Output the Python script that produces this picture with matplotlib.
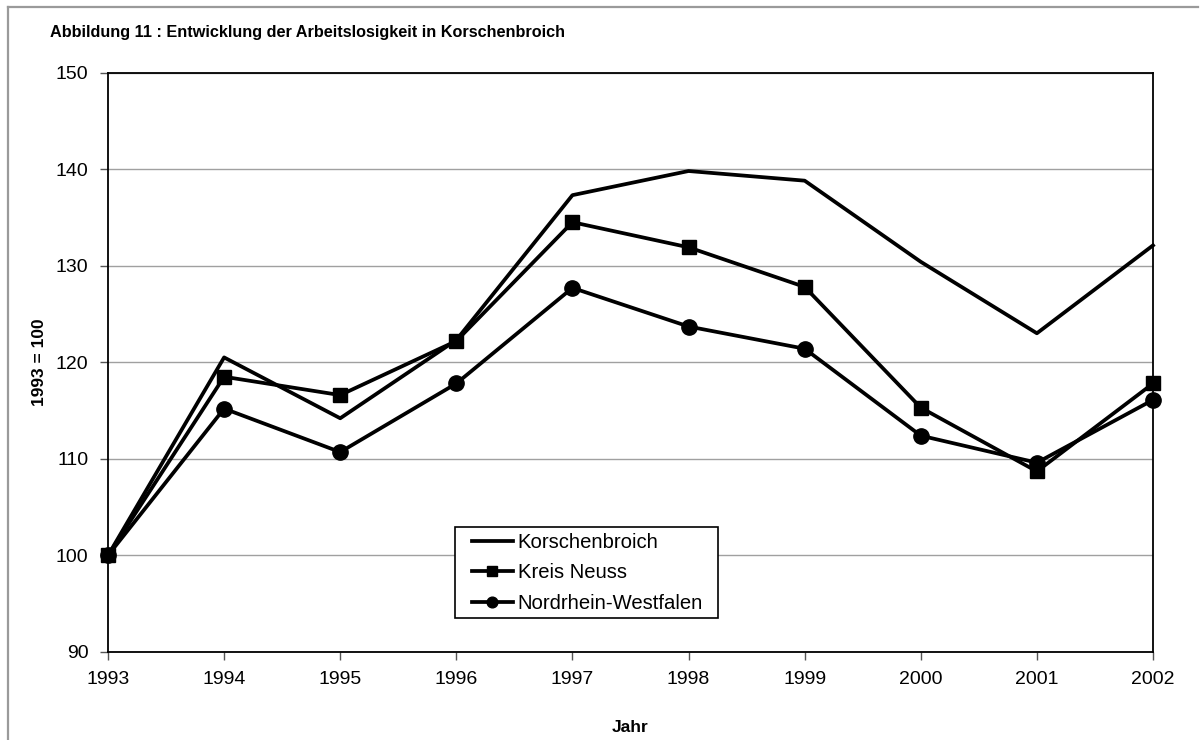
import numpy as np
import matplotlib
matplotlib.use("Agg")
import matplotlib.pyplot as plt
from matplotlib.lines import Line2D
from matplotlib.patches import Rectangle

plt.rcParams['font.family'] = ['Liberation Sans', 'DejaVu Sans']

# --- data (1993 = 100) ---
years = [1993, 1994, 1995, 1996, 1997, 1998, 1999, 2000, 2001, 2002]
korschenbroich = [100, 120.5, 114.2, 122.3, 137.3, 139.8, 138.8, 130.4, 123.0, 132.1]
kreis_neuss = [100, 118.5, 116.6, 122.2, 134.5, 131.9, 127.8, 115.3, 108.7, 117.8]
nrw = [100, 115.2, 110.7, 117.8, 127.7, 123.7, 121.4, 112.4, 109.6, 116.1]
y_ticks = [90, 100, 110, 120, 130, 140, 150]

title = "Abbildung 11 : Entwicklung der Arbeitslosigkeit in Korschenbroich"

W, H = 1200, 740
AX_L, AX_R, AX_T, AX_B = 108, 1153, 72.5, 652
fig = plt.figure(figsize=(W / 100, H / 100), dpi=100)
ax = fig.add_axes([AX_L / W, 1 - AX_B / H, (AX_R - AX_L) / W, (AX_B - AX_T) / H])


def ax_frac(px, py):
    # pixel position (from top-left of the picture) -> axes fraction
    return (px - AX_L) / (AX_R - AX_L), (AX_B - py) / (AX_B - AX_T)


lw = 2.7
ax.plot(years, korschenbroich, color='black', linewidth=lw, label='Korschenbroich')
ax.plot(years, kreis_neuss, color='black', linewidth=lw, marker='s', markersize=10.5,
        label='Kreis Neuss')
ax.plot(years, nrw, color='black', linewidth=lw, marker='o', markersize=11,
        label='Nordrhein-Westfalen')

# axes formatting
ax.set_xlim(years[0], years[-1])
ax.set_ylim(y_ticks[0], y_ticks[-1])
ax.set_xticks(years)
ax.set_yticks(y_ticks)
ax.tick_params(labelsize=14, length=6, width=1, color='#555555', pad=8)
ax.yaxis.grid(True, color='#a0a0a0', linewidth=1)
ax.set_axisbelow(True)
for sp in ax.spines.values():
    sp.set_linewidth(1.3)
    sp.set_color('black')
for m in ax.get_lines():
    m.set_clip_on(False)

# axis titles
fig.text(630 / W, 1 - 728 / H, "Jahr", fontsize=12.5, fontweight='bold',
         ha='center', va='center')
fig.text(40 / W, 1 - 362 / H, "1993 = 100", fontsize=12.5, fontweight='bold',
         ha='center', va='center', rotation=90)

# legend: contents placed without frame, frame drawn as a separate box
leg = ax.legend(loc='center', bbox_to_anchor=ax_frac(587.5, 573),
                borderaxespad=0, borderpad=0, fontsize=14.6, frameon=False,
                handlelength=2.0, handletextpad=0.25, labelspacing=0.55,
                markerscale=0.7)
x0, y0 = ax_frac(455, 618)
x1, y1 = ax_frac(718, 527)
ax.add_patch(Rectangle((x0, y0), x1 - x0, y1 - y0, transform=ax.transAxes,
                       facecolor='white', edgecolor='black', linewidth=1.2, zorder=4))
leg.set_zorder(5)

fig.text(50 / W, 1 - 33 / H, title, fontsize=11.7, fontweight='bold', ha='left', va='center')

# gray outer frame (top and left edges visible)
fig.add_artist(Line2D([8 / W, 1198 / W], [1 - 7 / H, 1 - 7 / H], color='#9a9a9a', linewidth=1.6))
fig.add_artist(Line2D([8 / W, 8 / W], [1 - 7 / H, 0], color='#9a9a9a', linewidth=1.6))

fig.savefig("out.png", dpi=100)
